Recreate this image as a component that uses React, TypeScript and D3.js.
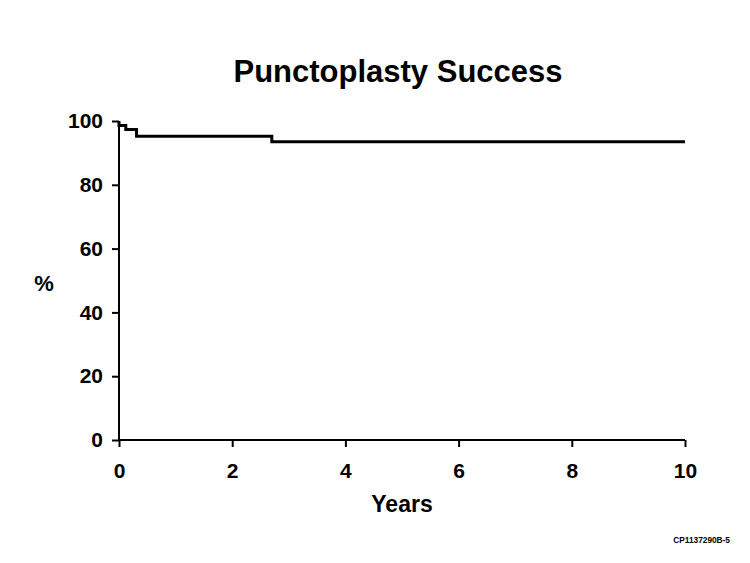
import { useEffect, useRef } from "react";
import * as d3 from "d3";

// Kaplan-Meier style step data: time (years), percent success
const years = [0, 0, 0.12, 0.31, 2.7, 10];
const success = [100, 98.6, 97.3, 95.2, 93.5, 93.5];
const xTicks = [0, 2, 4, 6, 8, 10];
const yTicks = [0, 20, 40, 60, 80, 100];

export default function App() {
  const svgRef = useRef<SVGSVGElement>(null);

  useEffect(() => {
    const width = 750;
    const height = 563;
    const margin = { top: 121, right: 65, bottom: 123, left: 119 };
    const w = width - margin.left - margin.right;
    const h = height - margin.top - margin.bottom;

    d3.select(svgRef.current).selectAll("*").remove();

    const root = d3
      .select(svgRef.current)
      .attr("width", width)
      .attr("height", height)
      .style("font-family", "'Liberation Sans', Arial, sans-serif")
      .style("font-weight", "bold");

    root
      .append("rect")
      .attr("width", width)
      .attr("height", height)
      .attr("fill", "#fff");

    const svg = root
      .append("g")
      .attr("transform", `translate(${margin.left},${margin.top})`);

    const x = d3.scaleLinear().domain([0, 10]).range([0, w]);
    const y = d3.scaleLinear().domain([0, 100]).range([h, 0]);

    const pts = years.map((t, i) => [t, success[i]] as [number, number]);
    const line = d3
      .line<[number, number]>()
      .x((d) => x(d[0]))
      .y((d) => y(d[1]))
      .curve(d3.curveStepAfter);

    const xAxis = svg
      .append("g")
      .attr("transform", `translate(0,${h})`)
      .call(d3.axisBottom(x).tickValues(xTicks).tickSize(7).tickPadding(16));
    const yAxis = svg
      .append("g")
      .call(d3.axisLeft(y).tickValues(yTicks).tickSize(7).tickPadding(9));

    [xAxis, yAxis].forEach((ax) => {
      ax.select(".domain").attr("stroke", "#000").attr("stroke-width", 2);
      ax.selectAll(".tick line").attr("stroke", "#000").attr("stroke-width", 2);
      ax.selectAll(".tick text")
        .attr("fill", "#000")
        .style("font-family", "'Liberation Sans', Arial, sans-serif")
        .style("font-weight", "bold")
        .style("font-size", "21px");
    });
    // remove outer tick stubs on domain path
    xAxis.select(".domain").attr("d", `M0,0H${w}`);
    yAxis.select(".domain").attr("d", `M0,0V${h}`);

    svg
      .append("path")
      .datum(pts)
      .attr("fill", "none")
      .attr("stroke", "#000")
      .attr("stroke-width", 3)
      .attr("d", line);

    root
      .append("text")
      .attr("x", 398)
      .attr("y", 82)
      .attr("text-anchor", "middle")
      .style("font-size", "31px")
      .text("Punctoplasty Success");

    root
      .append("text")
      .attr("x", 402)
      .attr("y", 512)
      .attr("text-anchor", "middle")
      .style("font-size", "23px")
      .text("Years");

    root
      .append("text")
      .attr("x", 44)
      .attr("y", 291)
      .attr("text-anchor", "middle")
      .style("font-size", "22px")
      .text("%");

    root
      .append("text")
      .attr("x", 730)
      .attr("y", 543)
      .attr("text-anchor", "end")
      .style("font-size", "8.3px")
      .text("CP1137290B-5");
  }, []);

  return (
    <svg
      ref={svgRef}
      style={{ position: "absolute", left: 0, top: 0, display: "block" }}
    ></svg>
  );
}
